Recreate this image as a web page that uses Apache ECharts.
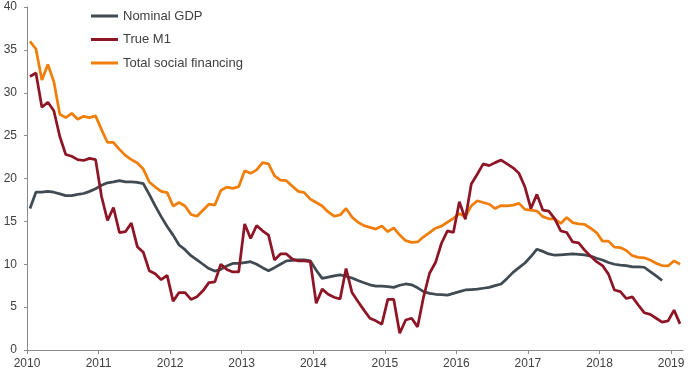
<!DOCTYPE html>
<html>
<head>
<meta charset="utf-8">
<script src="https://cdn.jsdelivr.net/npm/echarts@6/dist/echarts.min.js"></script>
<style>
html,body{margin:0;padding:0;background:#fff;}
#chart{width:688px;height:371px;}
</style>
</head>
<body>
<div id="chart"></div>
<script>
// Monthly data starting January 2010
var startYear = 2010;
var yearTicks = [2010, 2011, 2012, 2013, 2014, 2015, 2016, 2017, 2018, 2019];
var yTicks = [0, 5, 10, 15, 20, 25, 30, 35, 40];

var nominalGDP = [
  16.5, 18.4, 18.4, 18.5, 18.4, 18.2, 18.0, 18.0, 18.15, 18.25, 18.5, 18.8,
  19.2, 19.5, 19.6, 19.75, 19.6, 19.6, 19.55, 19.4, 18.15, 16.8, 15.55, 14.4,
  13.4, 12.25, 11.7, 11.0, 10.5, 10.0, 9.5, 9.2, 9.4, 9.8, 10.1, 10.1,
  10.2, 10.3, 10.0, 9.6, 9.25, 9.6, 10.0, 10.4, 10.45, 10.5, 10.5, 10.4,
  9.3, 8.35, 8.5, 8.65, 8.75, 8.6, 8.4, 8.1, 7.85, 7.6, 7.45, 7.45,
  7.4, 7.3, 7.55, 7.7, 7.6, 7.25, 6.8, 6.6, 6.5, 6.45, 6.4, 6.6,
  6.8, 7.0, 7.05, 7.1, 7.2, 7.3, 7.5, 7.7, 8.35, 9.05, 9.6, 10.15,
  10.9, 11.75, 11.5, 11.2, 11.05, 11.1, 11.15, 11.2, 11.15, 11.1, 10.95, 10.7,
  10.5, 10.2, 10.0, 9.9, 9.85, 9.7, 9.7, 9.65, 9.15, 8.65, 8.1
];

var trueM1 = [
  31.9, 32.3, 28.3, 28.9, 27.9, 24.9, 22.8, 22.6, 22.2, 22.1, 22.35, 22.2,
  17.9, 15.1, 16.6, 13.7, 13.8, 14.8, 12.05, 11.4, 9.25, 8.9, 8.2, 8.7,
  5.7, 6.7, 6.7, 5.9, 6.2, 6.9, 7.85, 7.95, 10.0, 9.4, 9.1, 9.1,
  14.7, 13.0, 14.5, 13.9, 13.4, 10.5, 11.2, 11.2, 10.6, 10.4, 10.4, 10.3,
  5.45, 7.1, 6.5, 6.15, 5.95, 9.5, 6.7, 5.65, 4.65, 3.7, 3.4, 3.0,
  5.9, 5.9, 1.95, 3.5, 3.7, 2.7, 6.2, 8.95, 10.2, 12.45, 13.9, 13.7,
  17.3, 15.25, 19.35, 20.5, 21.7, 21.5, 21.85, 22.15, 21.7, 21.25, 20.6, 19.0,
  16.5, 18.15, 16.3, 16.2, 15.3, 13.9, 13.7, 12.6, 12.5, 11.65, 10.95, 10.3,
  9.85, 8.85, 7.0, 6.8, 6.0, 6.2, 5.25, 4.35, 4.15, 3.7, 3.25, 3.4,
  4.65, 3.05
];

var totalSocialFinancing = [
  36.0, 35.1, 31.5, 33.3, 31.3, 27.5, 27.1, 27.6, 26.9, 27.25, 27.1, 27.3,
  25.7, 24.2, 24.2, 23.4, 22.7, 22.2, 21.8, 21.1, 19.6, 19.0, 18.5, 18.35,
  16.8, 17.2, 16.8, 15.8, 15.6, 16.3, 17.0, 16.9, 18.6, 19.0, 18.85, 19.05,
  20.9, 20.6, 21.0, 21.85, 21.7, 20.3, 19.8, 19.75, 19.1, 18.5, 18.35, 17.6,
  17.2, 16.8, 16.1, 15.6, 15.75, 16.5, 15.5, 14.9, 14.5, 14.3, 14.1, 14.45,
  13.8, 14.25, 13.4, 12.75, 12.55, 12.6, 13.2, 13.7, 14.2, 14.45, 14.9, 15.35,
  15.9, 15.55, 16.8, 17.4, 17.2, 17.0, 16.5, 16.85, 16.8, 16.9, 17.1, 16.4,
  16.3, 16.2, 15.55, 15.3, 15.3, 14.75, 15.45, 14.85, 14.7, 14.65, 14.2, 13.7,
  12.7, 12.7, 12.0, 11.95, 11.6, 11.0, 10.8, 10.75, 10.5, 10.1, 9.85, 9.8,
  10.4, 10.0
];

function toPairs(arr) {
  // each monthly value is placed at the middle of its month
  return arr.map(function (v, i) { return [startYear + (i + 0.5) / 12, v]; });
}

var colors = {
  gdp: '#3F4A52',
  m1: '#8E1526',
  tsf: '#F07E0A'
};

var chart = echarts.init(document.getElementById('chart'), null, {renderer: 'canvas'});
var axisColor = '#8a8a8a';
var textColor = '#404040';
var fontFamily = '"Liberation Sans", Arial, sans-serif';

chart.setOption({
  animation: false,
  backgroundColor: '#ffffff',
  grid: {left: 27, right: 5, top: 7, bottom: 21, containLabel: false},
  legend: {
    orient: 'vertical',
    left: 91,
    top: 8,
    padding: 0,
    icon: 'rect',
    itemWidth: 27,
    itemHeight: 3,
    itemGap: 7.5,
    data: ['Nominal GDP', 'True M1', 'Total social financing'],
    textStyle: {
      fontFamily: fontFamily,
      fontSize: 13,
      color: textColor,
      lineHeight: 16
    }
  },
  xAxis: {
    type: 'value',
    min: 2010,
    max: 2010 + 110 / 12,
    interval: 1,
    splitLine: {show: false},
    axisLine: {lineStyle: {color: axisColor, width: 1}},
    axisTick: {show: true, length: 4, lineStyle: {color: axisColor}, customValues: yearTicks},
    axisLabel: {
      customValues: yearTicks,
      color: textColor,
      fontFamily: fontFamily,
      fontSize: 12,
      margin: 8,
      formatter: function (v) { return String(Math.round(v)); }
    }
  },
  yAxis: {
    type: 'value',
    min: 0,
    max: 40,
    interval: 5,
    splitLine: {show: false},
    axisLine: {show: true, lineStyle: {color: axisColor, width: 1}},
    axisTick: {show: true, length: 3, lineStyle: {color: axisColor}},
    axisLabel: {
      color: textColor,
      fontFamily: fontFamily,
      fontSize: 12,
      margin: 10
    }
  },
  series: [
    {
      name: 'Total social financing',
      type: 'line',
      data: toPairs(totalSocialFinancing),
      showSymbol: false,
      symbol: 'none',
      lineStyle: {color: colors.tsf, width: 2.75},
      itemStyle: {color: colors.tsf},
      z: 2
    },
    {
      name: 'Nominal GDP',
      type: 'line',
      data: toPairs(nominalGDP),
      showSymbol: false,
      symbol: 'none',
      lineStyle: {color: colors.gdp, width: 2.75},
      itemStyle: {color: colors.gdp},
      z: 3
    },
    {
      name: 'True M1',
      type: 'line',
      data: toPairs(trueM1),
      showSymbol: false,
      symbol: 'none',
      lineStyle: {color: colors.m1, width: 2.75},
      itemStyle: {color: colors.m1},
      z: 4
    }
  ]
});
</script>
</body>
</html>
